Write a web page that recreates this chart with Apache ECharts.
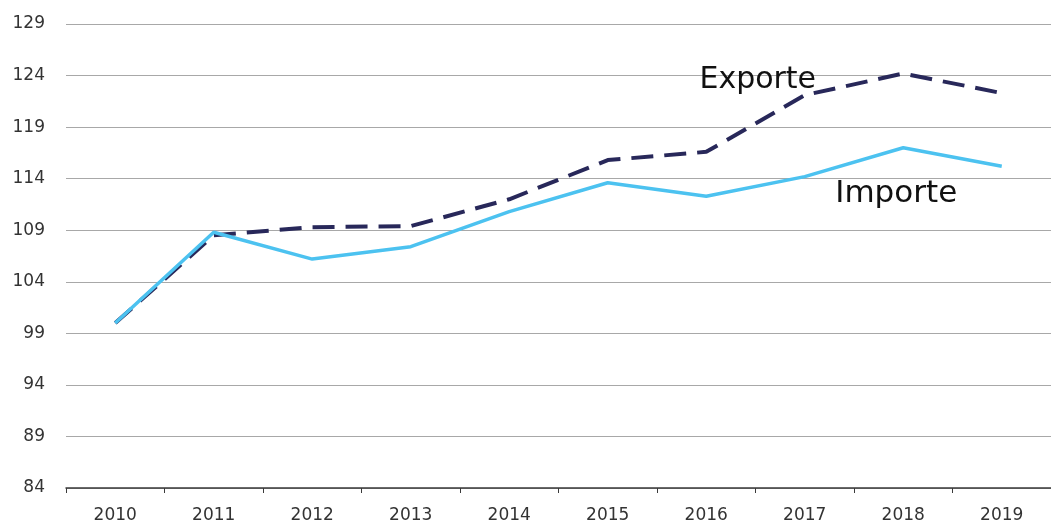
<!DOCTYPE html>
<html>
<head>
<meta charset="utf-8">
<script src="https://cdn.jsdelivr.net/npm/echarts@6/dist/echarts.min.js"></script>
<style>
  html, body { margin: 0; padding: 0; background: #fff; }
  #chart { width: 1051px; height: 524px; }
</style>
</head>
<body>
<div id="chart"></div>
<script>
// Index values (2010 = 100)
const years = ['2010', '2011', '2012', '2013', '2014', '2015', '2016', '2017', '2018', '2019'];
const exporte = [100.0, 108.5, 109.3, 109.4, 112.0, 115.8, 116.6, 122.1, 124.2, 122.3];
const importe = [100.0, 108.8, 106.2, 107.4, 110.8, 113.6, 112.3, 114.2, 117.0, 115.2];
const yMin = 84, yMax = 129, yStep = 5;

// Series names are written next to one chosen point of each line
const exportLabelIdx = 7;
const importLabelIdx = 8;

function withLabel(values, idx, label) {
  return values.map((v, i) => i === idx ? { value: v, label: label } : v);
}

const textFont = 'DejaVu Sans';

const chart = echarts.init(document.getElementById('chart'), null, { renderer: 'canvas' });
chart.setOption({
  animation: false,
  backgroundColor: '#ffffff',
  grid: { left: 66, top: 24, width: 990, bottom: 36, containLabel: false },
  xAxis: {
    type: 'category',
    data: years,
    boundaryGap: true,
    axisLine: { lineStyle: { color: '#3a3a3a', width: 1.5 } },
    axisTick: { show: true, length: 5, lineStyle: { color: '#3a3a3a' } },
    axisLabel: { color: '#333', fontFamily: textFont, fontSize: 17, margin: 19 },
    splitLine: { show: false }
  },
  yAxis: {
    type: 'value',
    min: yMin, max: yMax, interval: yStep,
    axisLine: { show: false },
    axisTick: { show: false },
    axisLabel: { color: '#333', fontFamily: textFont, fontSize: 17, margin: 21 },
    splitLine: { lineStyle: { color: '#a8a8a8', width: 1.2 } }
  },
  series: [
    {
      name: 'Exporte',
      type: 'line',
      data: withLabel(exporte, exportLabelIdx, {
        show: true, formatter: 'Exporte', position: 'top',
        offset: [-47, 5], fontFamily: textFont, fontSize: 30, color: '#111'
      }),
      symbol: 'circle',
      symbolSize: 0,
      showSymbol: true,
      label: { show: false },
      lineStyle: { color: '#28285a', width: 4, type: [22, 11] },
      z: 2
    },
    {
      name: 'Importe',
      type: 'line',
      data: withLabel(importe, importLabelIdx, {
        show: true, formatter: 'Importe', position: 'bottom',
        offset: [-7, 26], fontFamily: textFont, fontSize: 31, color: '#111'
      }),
      symbol: 'circle',
      symbolSize: 0,
      showSymbol: true,
      label: { show: false },
      lineStyle: { color: '#4cc2f0', width: 3.5 },
      z: 3
    }
  ]
});
</script>
</body>
</html>
